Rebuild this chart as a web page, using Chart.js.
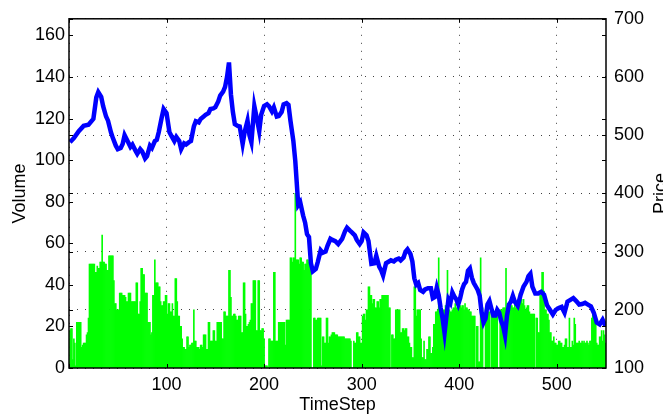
<!DOCTYPE html>
<html>
<head>
<meta charset="utf-8">
<script src="https://cdn.jsdelivr.net/npm/chart.js@4.4.1/dist/chart.umd.min.js"></script>
<style>
  html, body { margin: 0; padding: 0; background: #fff; overflow: hidden; }
  #wrap { width: 663px; height: 416px; overflow: hidden; }
  canvas { display: block; }
</style>
</head>
<body>
<div id="wrap"><canvas id="chart" width="680" height="416"></canvas></div>
<script>
// volume per time step, t = 1 .. 550
const volume = [
  18, 19, 19, 4, 14, 12, 1, 22, 22, 22,
  22, 22, 10, 11, 12, 12, 12, 16, 17, 24,
  50, 50, 50, 50, 50, 50, 46, 46, 49, 48,
  48, 51, 51, 64, 51, 51, 50, 50, 47, 47,
  54, 54, 54, 54, 54, 42, 31, 31, 28, 28,
  28, 36, 36, 36, 35, 35, 35, 34, 32, 32,
  36, 36, 36, 32, 32, 32, 32, 32, 41, 41,
  26, 26, 32, 48, 48, 45, 45, 36, 36, 36,
  22, 22, 22, 16, 17, 35, 35, 52, 41, 41,
  41, 39, 39, 32, 30, 30, 32, 32, 35, 35,
  26, 31, 31, 27, 27, 31, 25, 25, 43, 43,
  32, 25, 25, 20, 20, 14, 10, 10, 9, 9,
  15, 15, 10, 11, 11, 12, 12, 28, 13, 13,
  10, 10, 10, 9, 11, 11, 10, 16, 16, 16,
  9, 9, 22, 22, 13, 13, 13, 18, 18, 13,
  13, 22, 22, 22, 22, 22, 14, 14, 27, 27,
  25, 25, 25, 47, 47, 34, 25, 25, 26, 26,
  25, 23, 23, 25, 25, 25, 17, 17, 41, 41,
  26, 20, 20, 21, 22, 23, 31, 31, 42, 42,
  42, 18, 18, 42, 42, 18, 18, 19, 19, 14,
  1, 1, 1, 0, 14, 14, 13, 13, 13, 46,
  46, 13, 13, 13, 22, 22, 22, 22, 22, 22,
  22, 11, 23, 23, 23, 23, 53, 53, 51, 53,
  53, 84, 52, 52, 52, 50, 53, 53, 51, 51,
  47, 50, 50, 52, 52, 51, 51, 51, 0, 0,
  24, 24, 23, 23, 24, 24, 24, 24, 1, 15,
  15, 12, 12, 24, 24, 12, 15, 15, 16, 17,
  17, 17, 16, 16, 16, 15, 15, 15, 15, 15,
  15, 15, 14, 14, 14, 14, 14, 14, 13, 0,
  0, 13, 12, 12, 17, 17, 15, 15, 12, 12,
  25, 26, 26, 23, 28, 28, 39, 39, 35, 35,
  31, 33, 33, 29, 29, 32, 32, 29, 33, 33,
  35, 35, 35, 35, 35, 35, 35, 29, 29, 0,
  16, 16, 14, 14, 28, 28, 28, 28, 28, 17,
  17, 19, 19, 18, 19, 19, 15, 15, 12, 10,
  10, 5, 5, 39, 39, 25, 28, 28, 28, 28,
  14, 5, 5, 13, 4, 4, 9, 9, 15, 15,
  7, 7, 10, 21, 21, 27, 27, 28, 53, 29,
  29, 27, 27, 28, 28, 30, 30, 47, 28, 28,
  27, 27, 28, 29, 29, 31, 29, 29, 28, 30,
  30, 29, 30, 30, 28, 31, 29, 29, 28, 28,
  27, 27, 25, 25, 25, 25, 0, 20, 20, 3,
  3, 53, 29, 29, 0, 0, 28, 28, 27, 27,
  27, 0, 28, 26, 26, 27, 27, 28, 28, 0,
  0, 28, 28, 28, 29, 29, 29, 48, 27, 31,
  31, 30, 30, 30, 29, 29, 32, 29, 32, 31,
  30, 36, 36, 33, 31, 33, 30, 28, 29, 30,
  30, 27, 26, 26, 26, 26, 26, 0, 24, 24,
  17, 17, 35, 35, 46, 46, 37, 28, 28, 26,
  26, 23, 17, 17, 13, 13, 15, 12, 12, 11,
  11, 13, 13, 12, 12, 10, 10, 11, 14, 14,
  10, 10, 24, 10, 10, 13, 11, 24, 21, 12,
  12, 12, 13, 12, 12, 13, 12, 13, 12, 12,
  13, 12, 11, 13, 13, 24, 26, 26, 26, 25,
  12, 11, 11, 15, 15, 18, 13, 18, 16, 12
];

// price, read at these time steps
const priceStep = [
  1, 5, 10, 15, 20, 25, 28, 30, 33, 35, 38, 40, 43, 45, 48, 50, 53, 55, 57, 60,
  63, 65, 68, 70, 73, 75, 78, 80, 83, 85, 88, 90, 92, 95, 97, 100, 103, 105, 108, 110,
  113, 115, 118, 120, 123, 125, 128, 130, 133, 135, 138, 140, 143, 145, 148, 150, 153, 155, 158, 160,
  162, 164, 166, 168, 170, 173, 175, 178, 180, 183, 185, 187, 190, 193, 195, 197, 200, 203, 205, 208,
  210, 213, 215, 218, 220, 223, 225, 227, 230, 232, 235, 237, 240, 242, 244, 246, 248, 250, 253, 255,
  258, 260, 263, 265, 268, 270, 273, 276, 280, 283, 285, 288, 290, 293, 295, 298, 300, 302, 305, 307,
  310, 313, 315, 318, 320, 322, 325, 328, 330, 333, 335, 338, 340, 343, 345, 347, 350, 352, 354, 356,
  358, 360, 363, 365, 368, 371, 373, 375, 377, 379, 381, 383, 385, 387, 389, 391, 393, 395, 397, 399,
  401, 403, 405, 407, 409, 411, 413, 415, 417, 419, 421, 423, 425, 427, 429, 431, 433, 435, 437, 439,
  441, 443, 445, 447, 449, 451, 453, 455, 457, 460, 463, 466, 469, 471, 473, 475, 478, 481, 484, 487,
  490, 493, 496, 499, 502, 505, 508, 511, 514, 517, 520, 523, 526, 529, 532, 535, 538, 541, 544, 547,
  550
];
const priceValue = [
  488, 495, 507, 516, 518, 528, 565, 574, 566, 550, 532, 525, 505, 495, 482, 476, 478, 485, 500, 490,
  480, 484, 474, 468, 476, 472, 460, 464, 482, 478, 490, 492, 505, 530, 545, 538, 505, 499, 490, 497,
  490, 476, 486, 484, 488, 490, 515, 524, 522, 528, 532, 535, 538, 545, 546, 548, 558, 568, 575, 583,
  600, 625, 570, 540, 519, 516, 515, 485, 505, 525, 500, 488, 550, 525, 507, 535, 550, 553, 550, 541,
  548, 532, 533, 540, 553, 555, 552, 525, 490, 455, 380, 385, 362, 350, 330, 325, 280, 266, 270, 282,
  302, 298, 300, 310, 322, 320, 318, 313, 322, 335, 341, 336, 333, 328, 320, 313, 318, 333, 328, 318,
  279, 280, 293, 274, 268, 259, 280, 283, 285, 283, 286, 288, 285, 290, 300, 304, 296, 283, 254, 243,
  246, 234, 231, 235, 237, 237, 220, 222, 238, 225, 203, 185, 160, 190, 218, 212, 230, 223, 218, 209,
  220, 235, 244, 248, 267, 271, 255, 246, 240, 234, 224, 195, 178, 185, 209, 215, 202, 190, 190, 200,
  195, 181, 172, 156, 190, 209, 214, 224, 214, 207, 226, 240, 248, 258, 262, 240, 228, 228, 231, 226,
  208, 200, 192, 200, 203, 205, 195, 214, 217, 220, 215, 209, 210, 212, 209, 206, 195, 178, 175, 183,
  172
];

const volumeTicks = { min: 0, max: 168, step: 20 };
const priceTicks = { min: 100, max: 700, step: 100 };
const stepTicks = { min: 0, max: 550.5, step: 100 };

const FONT = { family: "'Liberation Sans', Arial, sans-serif", size: 18 };
const DOTS = [1, 7];
const GRID = 'rgba(0,0,0,0.75)';

// plot frame, inner tick marks and the right-hand title
const framePlugin = {
  id: 'frame',
  afterDraw(chart) {
    const { ctx, chartArea: a, scales } = chart;
    ctx.save();
    ctx.strokeStyle = '#000';
    ctx.lineWidth = 1;
    const seg = (x1, y1, x2, y2) => {
      ctx.beginPath(); ctx.moveTo(x1, y1); ctx.lineTo(x2, y2); ctx.stroke();
    };
    [scales.y, scales.y2].forEach(s => {
      s.ticks.forEach(t => {
        const py = Math.round(s.getPixelForValue(t.value)) + 0.5;
        seg(a.left, py, a.left + 4, py);
        seg(a.right - 4, py, a.right, py);
      });
    });
    scales.x.ticks.forEach(t => {
      const px = Math.round(scales.x.getPixelForValue(t.value)) + 0.5;
      seg(px, a.bottom, px, a.bottom - 4);
      seg(px, a.top, px, a.top + 4);
    });
    ctx.lineWidth = 1.5;
    ctx.strokeRect(a.left, a.top, a.right - a.left, a.bottom - a.top);

    ctx.fillStyle = '#000';
    ctx.font = FONT.size + 'px ' + FONT.family;
    ctx.translate(a.right + 60, (a.top + a.bottom) / 2);
    ctx.rotate(-Math.PI / 2);
    ctx.textAlign = 'center';
    ctx.textBaseline = 'alphabetic';
    ctx.fillText('Price', 0, 0);
    ctx.restore();
  }
};

new Chart(document.getElementById('chart'), {
  type: 'bar',
  data: {
    datasets: [
      {
        type: 'line',
        label: 'Price',
        data: priceStep.map((t, i) => ({ x: t, y: priceValue[i] })),
        yAxisID: 'y2',
        borderColor: '#0000ff',
        borderWidth: 4.5,
        pointRadius: 0,
        tension: 0,
        order: 0
      },
      {
        type: 'bar',
        label: 'Volume',
        data: volume.map((v, i) => ({ x: i + 1, y: v })),
        yAxisID: 'y',
        backgroundColor: '#00ff00',
        borderWidth: 0,
        barPercentage: 1,
        categoryPercentage: 1,
        grouped: false,
        order: 1
      }
    ]
  },
  options: {
    responsive: false,
    animation: false,
    devicePixelRatio: 1,
    layout: { padding: { top: 14, left: 0, right: 0, bottom: 0 } },
    plugins: { legend: { display: false }, tooltip: { enabled: false } },
    scales: {
      x: {
        type: 'linear',
        position: 'bottom',
        offset: false,
        min: stepTicks.min,
        max: stepTicks.max,
        ticks: {
          stepSize: stepTicks.step,
          includeBounds: false,
          maxRotation: 0,
          autoSkip: false,
          padding: 6,
          color: '#000',
          font: FONT,
          callback: v => (v === 0 ? '' : v)
        },
        grid: { color: GRID, lineWidth: 1, drawTicks: false, offset: false },
        border: { display: false, dash: DOTS },
        title: { display: true, text: 'TimeStep', color: '#000', font: FONT, padding: { top: 0, bottom: 0 } },
        afterFit: s => { s.height = 48; }
      },
      y: {
        type: 'linear',
        position: 'left',
        min: volumeTicks.min,
        max: volumeTicks.max,
        ticks: { stepSize: volumeTicks.step, includeBounds: false, padding: 4, color: '#000', font: FONT },
        grid: { display: false, drawTicks: false },
        border: { display: false },
        title: { display: true, text: 'Volume', color: '#000', font: FONT, padding: { top: 9, bottom: 0 } },
        afterFit: s => { s.width = 69; }
      },
      y2: {
        type: 'linear',
        position: 'right',
        min: priceTicks.min,
        max: priceTicks.max,
        ticks: { stepSize: priceTicks.step, padding: 8, color: '#000', font: FONT },
        grid: { color: GRID, lineWidth: 1, drawTicks: false },
        border: { display: false, dash: DOTS },
        afterFit: s => { s.width = 74; }
      }
    }
  },
  plugins: [framePlugin]
});
</script>
</body>
</html>
